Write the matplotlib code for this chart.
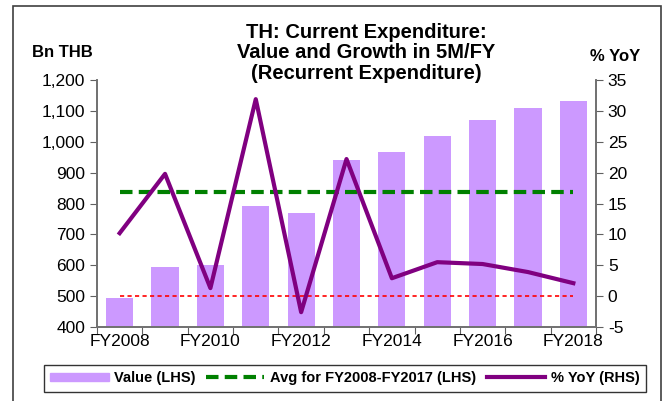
import matplotlib.pyplot as plt
from matplotlib.patches import Rectangle
from matplotlib.lines import Line2D
from matplotlib.ticker import FuncFormatter

plt.rcParams['font.family'] = ['Liberation Sans', 'DejaVu Sans']
plt.rcParams['axes.unicode_minus'] = False

years = ["FY2008", "FY2009", "FY2010", "FY2011", "FY2012", "FY2013",
         "FY2014", "FY2015", "FY2016", "FY2017", "FY2018"]
value = [495, 595, 601, 792, 770, 941, 967, 1019, 1071, 1109, 1132]
yoy = [10.2, 19.8, 1.3, 31.9, -2.6, 22.2, 2.9, 5.5, 5.2, 3.9, 2.1]
avg = sum(value[:10]) / 10

fig = plt.figure(figsize=(6.67, 4.01), dpi=100)
ax = fig.add_axes([0.1454, 0.1845, 0.7482, 0.616])
ax2 = ax.twinx()

x = list(range(len(years)))
ax.bar(x, value, width=0.6, color="#CC99FF", zorder=1)
ax.plot([x[0], x[-1]], [avg, avg], color="#008000", lw=3, ls=(0, (3, 1.5)), zorder=2)
ax2.plot([x[0], x[-1]], [0, 0], color="#FF0000", lw=1.2, ls=(0, (2.5, 2)), zorder=2)
ax2.plot(x, yoy, color="#800080", lw=3, zorder=3)

ax.set_xlim(-0.5, len(years) - 0.5)
ax.set_ylim(400, 1200)
ax.set_yticks(range(400, 1201, 100))
ax.yaxis.set_major_formatter(FuncFormatter(lambda v, p: f"{int(v):,}"))
ax2.set_ylim(-5, 35)
ax2.set_yticks(range(-5, 36, 5))

ax.set_xticks([i + 0.5 for i in range(-1, len(years))])
ax.set_xticklabels([])
ax.set_xticks(x[::2], minor=True)
ax.set_xticklabels(years[::2], minor=True)
ax.tick_params(axis="x", which="major", direction="out", length=5, color="#606060")
ax.tick_params(axis="x", which="minor", length=0, labelsize=12.5, pad=5)
ax.tick_params(axis="y", direction="out", length=5, color="#606060", labelsize=12.5)
ax2.tick_params(axis="y", direction="out", length=5, color="#606060", labelsize=12.5)

for a in (ax, ax2):
    a.spines["top"].set_visible(False)
    for s in ("left", "right", "bottom"):
        a.spines[s].set_color("#707070")
        a.spines[s].set_linewidth(1.2)

fig.text(0.549, 0.868, "TH: Current Expenditure:\nValue and Growth in 5M/FY\n(Recurrent Expenditure)",
         ha="center", va="center", fontsize=14.5, fontweight="bold", linespacing=1.08)
fig.text(0.093, 0.868, "Bn THB", ha="center", va="center", fontsize=12, fontweight="bold")
fig.text(0.922, 0.86, "% YoY", ha="center", va="center", fontsize=12, fontweight="bold")

# outer frame
fig.patches.append(Rectangle((0.019, -0.01), 0.972, 0.995, transform=fig.transFigure,
                             fill=False, edgecolor="#404040", lw=1.2))

handles = [Rectangle((0, 0), 1, 1, color="#CC99FF"),
           Line2D([], [], color="#008000", lw=3, ls=(0, (3, 1.5))),
           Line2D([], [], color="#800080", lw=3)]
labels = ["Value (LHS)", "Avg for FY2008-FY2017 (LHS)", "% YoY (RHS)"]
leg = fig.legend(handles, labels, loc="center", bbox_to_anchor=(0.517, 0.057), ncol=3,
                 frameon=True, fancybox=False, edgecolor="black", handlelength=4,
                 handleheight=0.5, columnspacing=0.7, handletextpad=0.4, borderpad=0.45,
                 prop={"weight": "bold", "size": 10.5})
leg.get_frame().set_linewidth(1.0)

fig.savefig("out.png", dpi=100)
